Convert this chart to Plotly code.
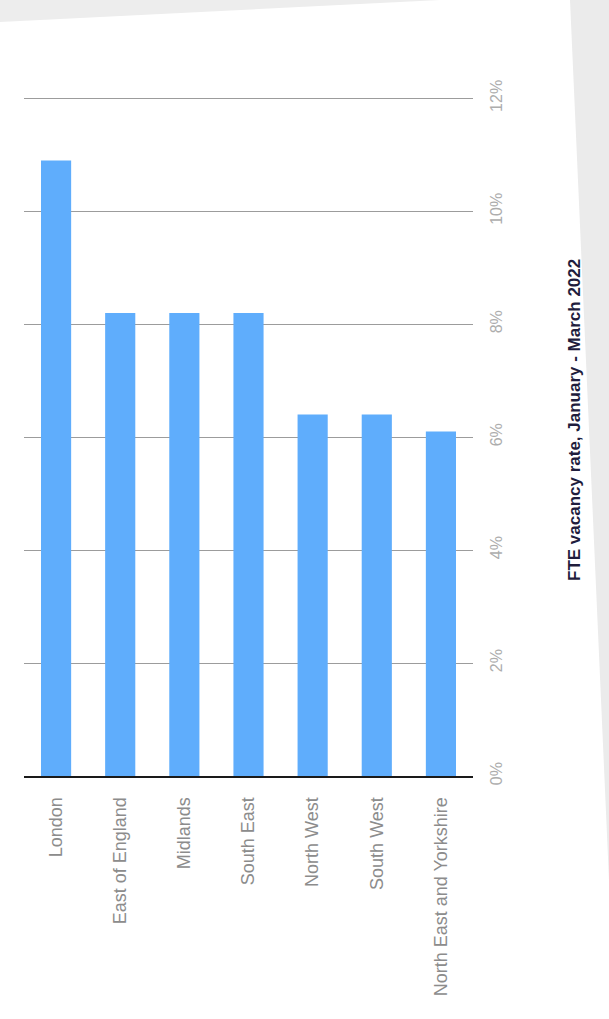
import plotly.graph_objects as go

# ---- data ----
regions = ["London", "East of England", "Midlands", "South East",
           "North West", "South West", "North East and Yorkshire"]
vacancy_rate = [10.9, 8.2, 8.2, 8.2, 6.4, 6.4, 6.1]
y_tick_values = [0, 2, 4, 6, 8, 10, 12]
y_tick_labels = ["0%", "2%", "4%", "6%", "8%", "10%", "12%"]
title_text = "FTE vacancy rate, January - March 2022"

# ---- layout geometry (pixels) ----
W, H = 609, 1019
ML, MR, MT, MB = 24, 136, 96, 243
PW, PH = W - ML - MR, H - MT - MB

def px_x(px):
    return (px - ML) / PW

def px_y(py):
    return (H - MB - py) / PH

fig = go.Figure()
fig.add_trace(go.Bar(
    x=regions,
    y=vacancy_rate,
    marker=dict(color="#5fadfc", line=dict(width=0)),
    hovertemplate="%{x}: %{y}%<extra></extra>",
))

shapes = [
    # grey desk showing around the tilted sheet of paper
    dict(type="path", xref="paper", yref="paper", layer="below",
         path=f"M {px_x(0)},{px_y(0)} L {px_x(0)},{px_y(22)} L {px_x(440)},{px_y(0)} Z",
         fillcolor="#ededed", line=dict(width=0)),
    dict(type="path", xref="paper", yref="paper", layer="below",
         path=f"M {px_x(570)},{px_y(0)} L {px_x(609)},{px_y(0)} L {px_x(609)},{px_y(880)} Z",
         fillcolor="#ebebeb", line=dict(width=0)),
]

fig.update_layout(
    width=W, height=H,
    margin=dict(l=ML, r=MR, t=MT, b=MB, pad=0),
    paper_bgcolor="#ffffff",
    plot_bgcolor="rgba(0,0,0,0)",
    bargap=0.53,
    showlegend=False,
    font=dict(family="Liberation Sans, Arial, sans-serif"),
    shapes=shapes,
    xaxis=dict(
        type="category",
        range=[-0.5, 6.5],
        tickangle=-90,
        ticks="",
        showline=True, linecolor="#1a1a1a", linewidth=2,
        showgrid=False, zeroline=False,
        tickfont=dict(size=18, color="#8c8c8c"),
        ticklabelstandoff=12,
    ),
    yaxis=dict(
        side="right",
        range=[0, 12.04],
        tickvals=y_tick_values,
        ticktext=y_tick_labels,
        tickangle=-90,
        ticks="",
        showgrid=True, gridcolor="#9c9c9c", gridwidth=1,
        zeroline=False, showline=False,
        tickfont=dict(size=16, color="#adadad"),
        ticklabelstandoff=12,
    ),
    annotations=[dict(
        text=f"<b>{title_text}</b>",
        xref="paper", yref="paper",
        x=px_x(574), y=px_y(420),
        xanchor="center", yanchor="middle",
        textangle=-90, showarrow=False,
        font=dict(size=17, color="#1f1d3d"),
    )],
)

fig.write_html("out.html")
